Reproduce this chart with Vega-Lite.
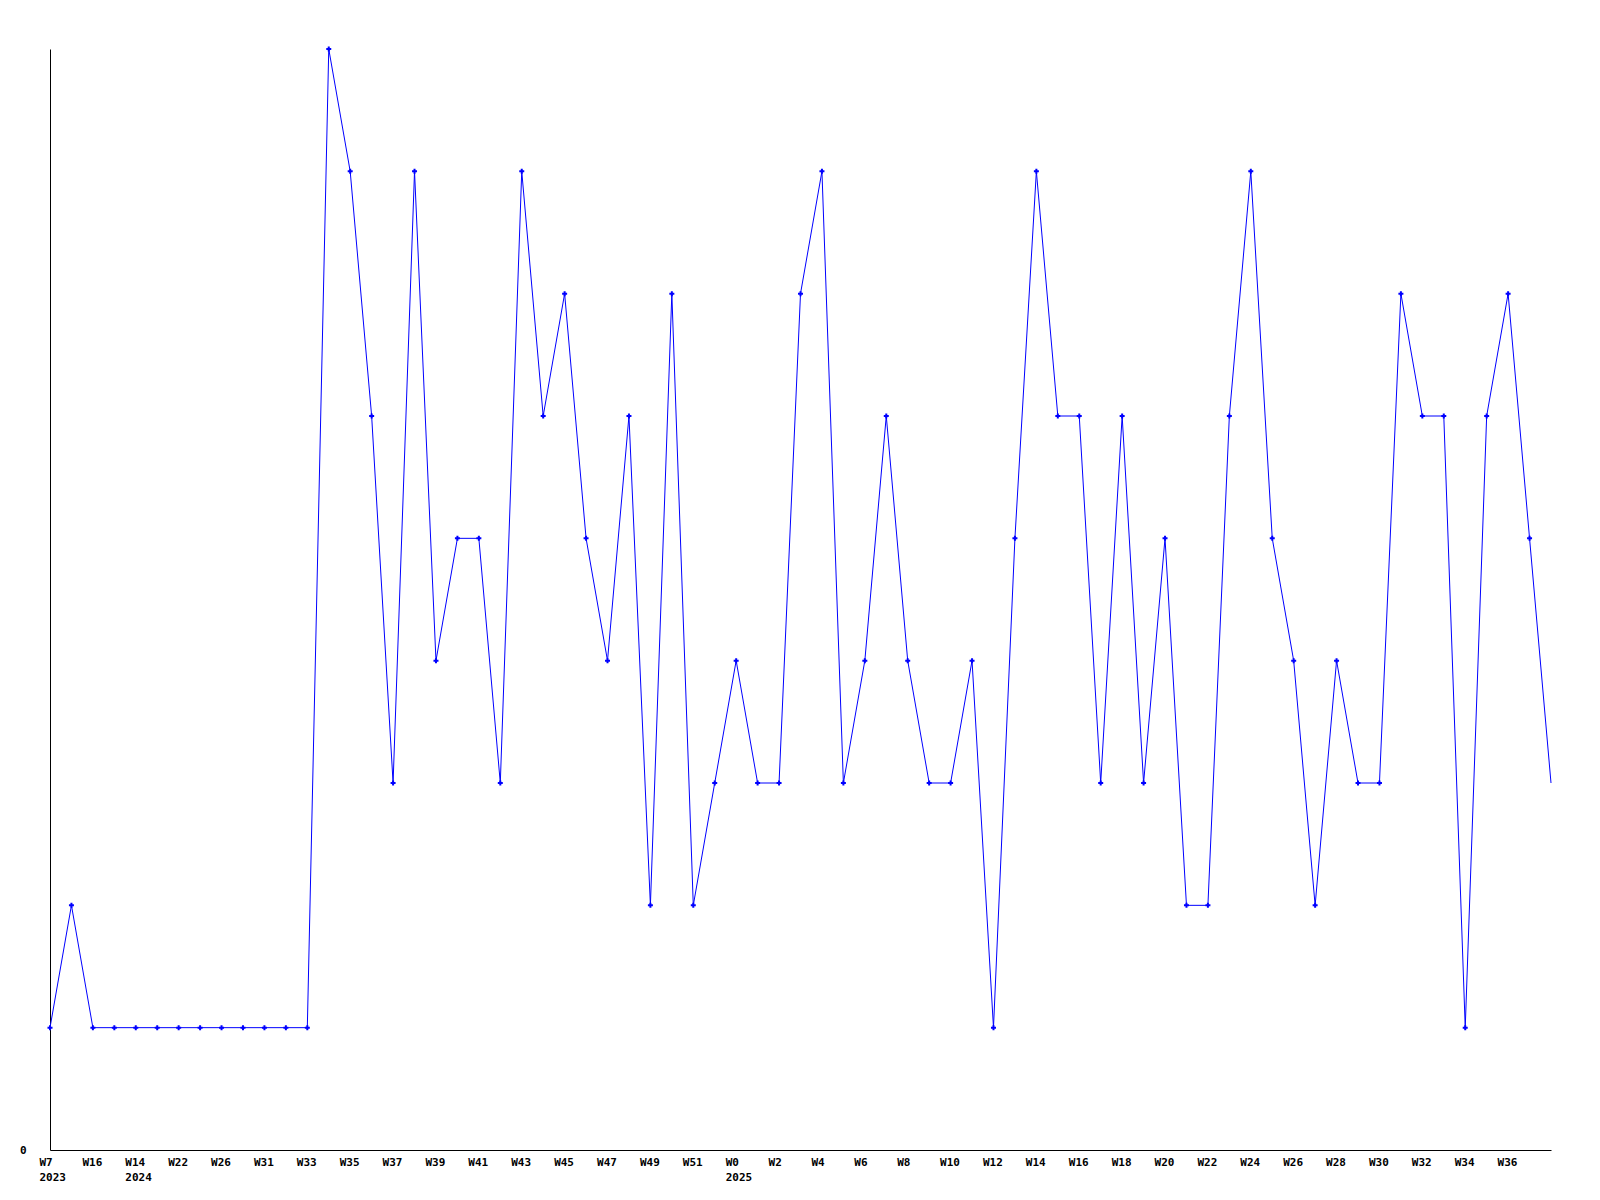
{
  "$schema": "https://vega.github.io/schema/vega-lite/v6.json",
  "width": 1501,
  "height": 1101,
  "autosize": "none",
  "padding": {"left": 50, "top": 49, "right": 49, "bottom": 50},
  "background": "white",
  "config": {"view": {"stroke": null}},
  "data": {"values": [
    {"i": 0, "key": "0:W7:2023", "v": 1},
    {"i": 1, "key": "1:W12:", "v": 2},
    {"i": 2, "key": "2:W16:", "v": 1},
    {"i": 3, "key": "3:W9:", "v": 1},
    {"i": 4, "key": "4:W14:2024", "v": 1},
    {"i": 5, "key": "5:W18:", "v": 1},
    {"i": 6, "key": "6:W22:", "v": 1},
    {"i": 7, "key": "7:W24:", "v": 1},
    {"i": 8, "key": "8:W26:", "v": 1},
    {"i": 9, "key": "9:W29:", "v": 1},
    {"i": 10, "key": "10:W31:", "v": 1},
    {"i": 11, "key": "11:W32:", "v": 1},
    {"i": 12, "key": "12:W33:", "v": 1},
    {"i": 13, "key": "13:W34:", "v": 9},
    {"i": 14, "key": "14:W35:", "v": 8},
    {"i": 15, "key": "15:W36:", "v": 6},
    {"i": 16, "key": "16:W37:", "v": 3},
    {"i": 17, "key": "17:W38:", "v": 8},
    {"i": 18, "key": "18:W39:", "v": 4},
    {"i": 19, "key": "19:W40:", "v": 5},
    {"i": 20, "key": "20:W41:", "v": 5},
    {"i": 21, "key": "21:W42:", "v": 3},
    {"i": 22, "key": "22:W43:", "v": 8},
    {"i": 23, "key": "23:W44:", "v": 6},
    {"i": 24, "key": "24:W45:", "v": 7},
    {"i": 25, "key": "25:W46:", "v": 5},
    {"i": 26, "key": "26:W47:", "v": 4},
    {"i": 27, "key": "27:W48:", "v": 6},
    {"i": 28, "key": "28:W49:", "v": 2},
    {"i": 29, "key": "29:W50:", "v": 7},
    {"i": 30, "key": "30:W51:", "v": 2},
    {"i": 31, "key": "31:W52:", "v": 3},
    {"i": 32, "key": "32:W0:2025", "v": 4},
    {"i": 33, "key": "33:W1:", "v": 3},
    {"i": 34, "key": "34:W2:", "v": 3},
    {"i": 35, "key": "35:W3:", "v": 7},
    {"i": 36, "key": "36:W4:", "v": 8},
    {"i": 37, "key": "37:W5:", "v": 3},
    {"i": 38, "key": "38:W6:", "v": 4},
    {"i": 39, "key": "39:W7:", "v": 6},
    {"i": 40, "key": "40:W8:", "v": 4},
    {"i": 41, "key": "41:W9:", "v": 3},
    {"i": 42, "key": "42:W10:", "v": 3},
    {"i": 43, "key": "43:W11:", "v": 4},
    {"i": 44, "key": "44:W12:", "v": 1},
    {"i": 45, "key": "45:W13:", "v": 5},
    {"i": 46, "key": "46:W14:", "v": 8},
    {"i": 47, "key": "47:W15:", "v": 6},
    {"i": 48, "key": "48:W16:", "v": 6},
    {"i": 49, "key": "49:W17:", "v": 3},
    {"i": 50, "key": "50:W18:", "v": 6},
    {"i": 51, "key": "51:W19:", "v": 3},
    {"i": 52, "key": "52:W20:", "v": 5},
    {"i": 53, "key": "53:W21:", "v": 2},
    {"i": 54, "key": "54:W22:", "v": 2},
    {"i": 55, "key": "55:W23:", "v": 6},
    {"i": 56, "key": "56:W24:", "v": 8},
    {"i": 57, "key": "57:W25:", "v": 5},
    {"i": 58, "key": "58:W26:", "v": 4},
    {"i": 59, "key": "59:W27:", "v": 2},
    {"i": 60, "key": "60:W28:", "v": 4},
    {"i": 61, "key": "61:W29:", "v": 3},
    {"i": 62, "key": "62:W30:", "v": 3},
    {"i": 63, "key": "63:W31:", "v": 7},
    {"i": 64, "key": "64:W32:", "v": 6},
    {"i": 65, "key": "65:W33:", "v": 6},
    {"i": 66, "key": "66:W34:", "v": 1},
    {"i": 67, "key": "67:W35:", "v": 6},
    {"i": 68, "key": "68:W36:", "v": 7},
    {"i": 69, "key": "69:W37:", "v": 5},
    {"i": 70, "key": "70:W38:", "v": 3}
  ]},
  "encoding": {
    "x": {
      "field": "key", "type": "ordinal", "sort": null,
      "scale": {"type": "point", "padding": 0},
      "axis": {
        "title": null,
        "values": ["0:W7:2023","2:W16:","4:W14:2024","6:W22:","8:W26:","10:W31:","12:W33:","14:W35:","16:W37:","18:W39:","20:W41:","22:W43:","24:W45:","26:W47:","28:W49:","30:W51:","32:W0:2025","34:W2:","36:W4:","38:W6:","40:W8:","42:W10:","44:W12:","46:W14:","48:W16:","50:W18:","52:W20:","54:W22:","56:W24:","58:W26:","60:W28:","62:W30:","64:W32:","66:W34:","68:W36:"],
        "labelExpr": "slice(split(datum.value, ':'), 1)",
        "labelAngle": 0,
        "labelAlign": "left",
        "labelBaseline": "top",
        "labelOffset": -11,
        "labelPadding": 6,
        "labelLineHeight": 15,
        "labelFont": "DejaVu Sans Mono",
        "labelFontWeight": "bold",
        "labelFontSize": 11,
        "labelColor": "black",
        "labelOverlap": false,
        "labelBound": false,
        "ticks": false,
        "grid": false,
        "domainColor": "black",
        "domainWidth": 1
      }
    },
    "y": {
      "field": "v", "type": "quantitative",
      "scale": {"domain": [0, 9], "nice": false, "zero": true},
      "axis": {
        "title": null,
        "values": [0],
        "ticks": false,
        "grid": false,
        "labelPadding": 24,
        "labelFont": "DejaVu Sans Mono",
        "labelFontWeight": "bold",
        "labelFontSize": 11,
        "labelColor": "black",
        "domainColor": "black",
        "domainWidth": 1
      }
    }
  },
  "layer": [
    {"mark": {"type": "line", "color": "#0000ff", "strokeWidth": 1}},
    {
      "transform": [{"filter": "datum.i < 70"}],
      "mark": {"type": "point", "shape": "cross", "filled": true, "color": "#0000ff", "size": 25, "opacity": 1}
    }
  ]
}
